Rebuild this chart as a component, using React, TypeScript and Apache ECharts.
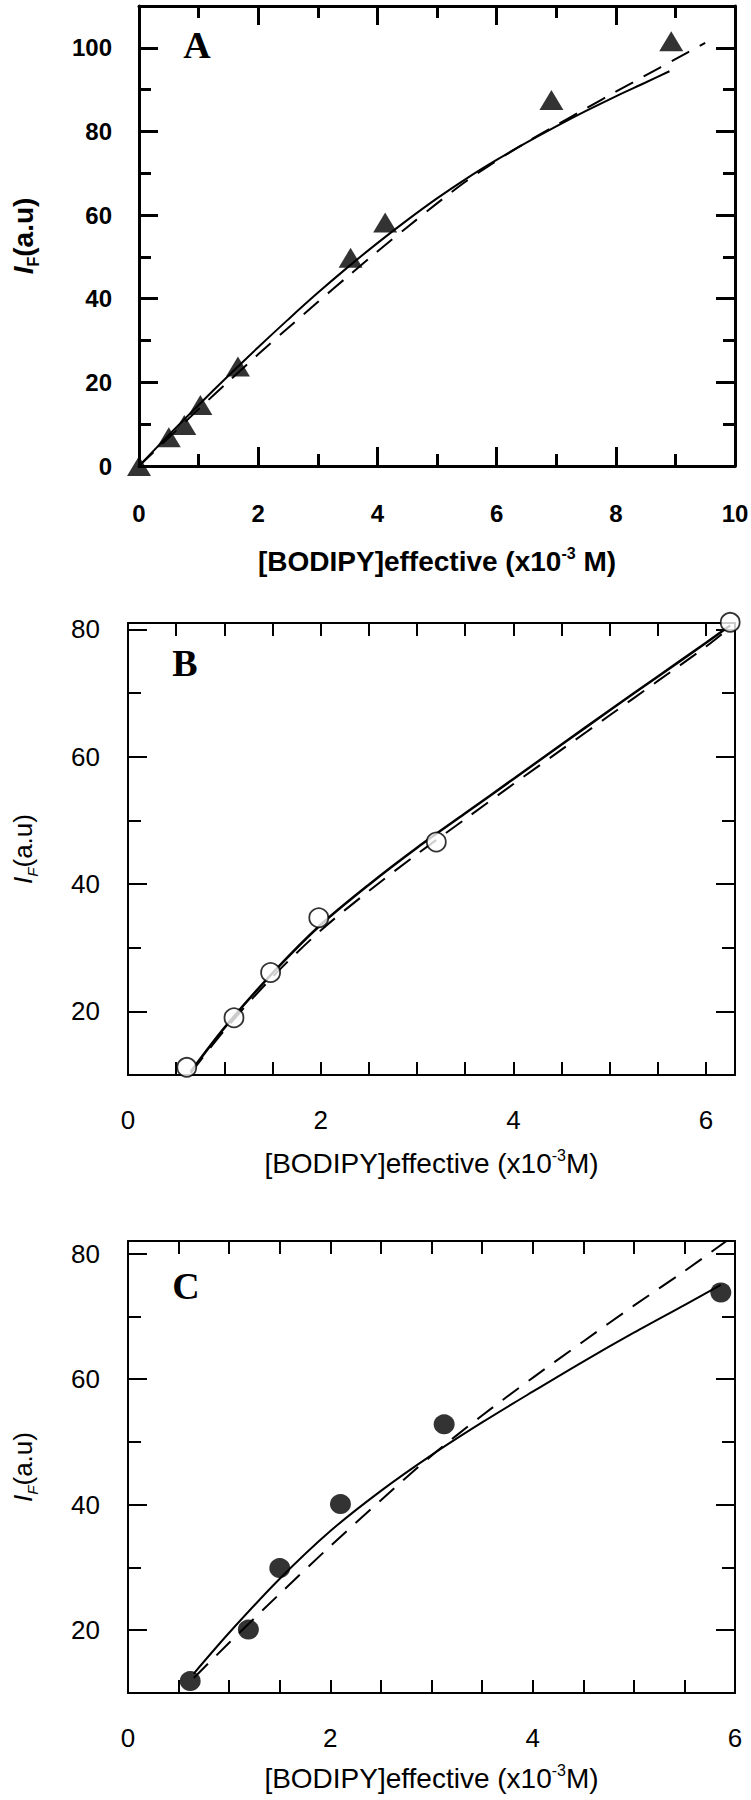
import React, { useEffect, useRef } from "react";
import * as echarts from "echarts";

// ---------- Panel A (filled triangles) ----------
const A_PTS_X = [0.0, 0.5, 0.76, 1.03, 1.66, 3.55, 4.13, 6.92, 8.93];
const A_PTS_Y = [0.0, 6.9, 9.8, 14.6, 23.8, 49.8, 58.2, 87.5, 101.6];
const A_FIT_X = [0, 0.5, 1, 1.5, 2, 2.5, 3, 3.5, 4, 4.5, 5, 5.5, 6, 6.5, 7, 7.5, 8, 8.5, 8.9];
const A_FIT_Y = [0, 7.4, 14.6, 21.6, 28.4, 35.0, 41.4, 47.5, 53.3, 58.8, 64.0, 68.8, 73.2, 77.3, 81.2, 84.9, 88.4, 91.7, 94.4];
const A_DASH_X = [0, 0.5, 1, 1.5, 2, 2.5, 3, 3.5, 4, 4.5, 5, 5.5, 6, 6.5, 7, 7.5, 8, 8.5, 9, 9.5];
const A_DASH_Y = [0, 6.8, 13.6, 20.2, 26.7, 33.0, 39.2, 45.3, 51.3, 57.1, 62.8, 68.2, 73.0, 77.4, 81.5, 85.5, 89.5, 93.4, 97.3, 101.2];
const A_X_LABELS = [0, 2, 4, 6, 8, 10];
const A_X_MAJOR = [2, 4, 6, 8];
const A_X_MINOR = [1, 3, 5, 7, 9];
const A_Y_LABELS = [0, 20, 40, 60, 80, 100];
const A_Y_MAJOR = [20, 40, 60, 80, 100];
const A_Y_MINOR = [10, 30, 50, 70, 90];

// ---------- Panel B (open circles) ----------
const B_PTS_X = [0.61, 1.1, 1.48, 1.98, 3.2, 6.25];
const B_PTS_Y = [11.2, 19.0, 26.1, 34.7, 46.6, 81.1];
const B_FIT_X = [0.65, 1, 1.5, 2, 2.5, 3, 3.5, 4, 4.5, 5, 5.5, 6, 6.25];
const B_FIT_Y = [10.5, 17.4, 26.0, 33.6, 39.9, 45.7, 51.1, 56.5, 61.9, 67.3, 72.6, 77.9, 80.6];
const B_DASH_X = [0.65, 1, 1.5, 2, 2.5, 3, 3.5, 4, 4.5, 5, 5.5, 6, 6.25];
const B_DASH_Y = [10.3, 17.0, 25.4, 32.7, 38.9, 44.7, 50.2, 55.7, 61.1, 66.5, 71.9, 77.3, 80.3];
const B_X_LABELS = [0, 2, 4, 6];
const B_X_TICKS = [0.5, 1, 1.5, 2, 2.5, 3, 3.5, 4, 4.5, 5, 5.5, 6];
const B_Y_LABELS = [20, 40, 60, 80];
const B_Y_MAJOR = [20, 40, 60, 80];
const B_Y_MINOR = [30, 50, 70];

// ---------- Panel C (filled circles) ----------
const C_PTS_X = [0.615, 1.19, 1.5, 2.1, 3.125, 5.86];
const C_PTS_Y = [11.9, 20.1, 29.9, 40.1, 52.8, 73.8];
const C_FIT_X = [0.65, 1, 1.5, 2, 2.5, 3, 3.5, 4, 4.5, 5, 5.5, 5.86];
const C_FIT_Y = [13.1, 19.6, 28.2, 35.8, 42.2, 47.9, 53.1, 58.0, 62.8, 67.4, 71.8, 75.0];
const C_DASH_X = [0.65, 1, 1.5, 2, 2.5, 3, 3.5, 4, 4.5, 5, 5.5, 5.95];
const C_DASH_Y = [12.4, 18.0, 25.8, 33.4, 40.7, 47.8, 54.2, 60.2, 66.0, 71.7, 77.2, 82.4];
const C_X_LABELS = [0, 2, 4, 6];
const C_X_TICKS = [0.5, 1, 1.5, 2, 2.5, 3, 3.5, 4, 4.5, 5, 5.5];
const C_Y_LABELS = [20, 40, 60, 80];
const C_Y_MAJOR = [20, 40, 60, 80];
const C_Y_MINOR = [30, 50, 70];

const SANS = "'Liberation Sans', Arial, sans-serif";
const SERIF = "'Liberation Serif', 'Times New Roman', serif";

const zip = (xs: number[], ys: number[]) => xs.map((x, i) => [x, ys[i]]);

function axesFor(
  dim: "x" | "y",
  gridIndex: number,
  min: number,
  max: number,
  labels: number[],
  majorTicks: number[],
  majorLen: number,
  minorTicks: number[],
  minorLen: number,
  lineW: number,
  labelStyle: any,
  name: string,
  nameGap: number,
  nameStyle: any
) {
  const base = {
    type: "value",
    gridIndex,
    min,
    max,
    splitLine: { show: false },
  };
  const line = { show: true, onZero: false, lineStyle: { color: "#000", width: lineW } };
  const noLine = { show: false, onZero: false };
  const tick = (vals: number[], len: number) => ({
    show: vals.length > 0,
    inside: true,
    length: len,
    customValues: vals,
    lineStyle: { color: "#000", width: lineW },
  });
  const p1 = dim === "x" ? "bottom" : "left";
  const p2 = dim === "x" ? "top" : "right";
  return [
    {
      ...base,
      position: p1,
      axisLine: line,
      axisTick: tick(majorTicks, majorLen),
      axisLabel: { show: true, customValues: labels, color: "#000", ...labelStyle },
      name,
      nameLocation: "middle",
      nameGap,
      nameRotate: dim === "y" ? 90 : 0,
      nameTextStyle: nameStyle,
    },
    { ...base, position: p1, axisLine: noLine, axisTick: tick(minorTicks, minorLen), axisLabel: { show: false } },
    { ...base, position: p2, axisLine: line, axisTick: tick(majorTicks, majorLen), axisLabel: { show: false } },
    { ...base, position: p2, axisLine: noLine, axisTick: tick(minorTicks, minorLen), axisLabel: { show: false } },
  ];
}

const boldLabel = { fontFamily: SANS, fontWeight: "bold", fontSize: 24 };
const regLabel = { fontFamily: SANS, fontWeight: "normal", fontSize: 26 };

const xNameBold = {
  rich: {
    n: { fontFamily: SANS, fontWeight: "bold", fontSize: 28, lineHeight: 32, color: "#000" },
    sup: { fontFamily: SANS, fontWeight: "bold", fontSize: 16, verticalAlign: "top", color: "#000" },
  },
};
const xNameReg = {
  rich: {
    n: { fontFamily: SANS, fontWeight: "normal", fontSize: 28, lineHeight: 32, color: "#000" },
    sup: { fontFamily: SANS, fontWeight: "normal", fontSize: 16, verticalAlign: "top", color: "#000" },
  },
};
const yNameBold = {
  rich: {
    i: { fontFamily: SANS, fontWeight: "bold", fontStyle: "italic", fontSize: 28, lineHeight: 36, color: "#000" },
    s: { fontFamily: SANS, fontWeight: "bold", fontSize: 16, verticalAlign: "bottom", color: "#000" },
    n: { fontFamily: SANS, fontWeight: "bold", fontSize: 28, lineHeight: 36, color: "#000" },
  },
};
const yNameReg = {
  rich: {
    i: { fontFamily: SANS, fontStyle: "italic", fontSize: 26, lineHeight: 34, color: "#000" },
    s: { fontFamily: SANS, fontStyle: "italic", fontSize: 15, verticalAlign: "bottom", color: "#000" },
    n: { fontFamily: SANS, fontSize: 26, lineHeight: 34, color: "#000" },
  },
};

function buildOption() {
  const grids = [
    { left: 139, top: 6, width: 596, height: 460, show: false, containLabel: false, outerBoundsMode: "none" },
    { left: 128, top: 623, width: 607, height: 452, show: false, containLabel: false, outerBoundsMode: "none" },
    { left: 128, top: 1241, width: 607, height: 452, show: false, containLabel: false, outerBoundsMode: "none" },
  ];
  const xAxes = [
    ...axesFor("x", 0, 0, 10, A_X_LABELS, A_X_MAJOR, 19, A_X_MINOR, 12, 3, { ...boldLabel, margin: 35 },
      "{n|[BODIPY]effective (x10}{sup|-3}{n| M)}", 79, xNameBold),
    ...axesFor("x", 1, 0, 6.3, B_X_LABELS, B_X_TICKS, 13, [], 0, 2, { ...regLabel, margin: 32 },
      "{n|[BODIPY]effective (x10}{sup|-3}{n|M)}", 72, xNameReg),
    ...axesFor("x", 2, 0, 6, C_X_LABELS, C_X_TICKS, 13, [], 0, 2, { ...regLabel, margin: 32 },
      "{n|[BODIPY]effective (x10}{sup|-3}{n|M)}", 69, xNameReg),
  ];
  const yAxes = [
    ...axesFor("y", 0, 0, 110, A_Y_LABELS, A_Y_MAJOR, 19, A_Y_MINOR, 12, 3, { ...boldLabel, margin: 27 },
      "{i|I}{s|F}{n|(a.u)}", 98, yNameBold),
    ...axesFor("y", 1, 10, 81, B_Y_LABELS, B_Y_MAJOR, 19, B_Y_MINOR, 13, 2, { ...regLabel, margin: 28 },
      "{i|I}{s|F}{n|(a.u)}", 88, yNameReg),
    ...axesFor("y", 2, 10, 82, C_Y_LABELS, C_Y_MAJOR, 19, C_Y_MINOR, 13, 2, { ...regLabel, margin: 28 },
      "{i|I}{s|F}{n|(a.u)}", 88, yNameReg),
  ];

  const fit = (p: number, xs: number[], ys: number[], width: number) => ({
    type: "line",
    xAxisIndex: 4 * p,
    yAxisIndex: 4 * p,
    data: zip(xs, ys),
    showSymbol: false,
    smooth: 0.3,
    lineStyle: { color: "#000", width, type: "solid" },
    z: 2,
  });
  const dash = (p: number, xs: number[], ys: number[], width: number) => ({
    type: "line",
    xAxisIndex: 4 * p,
    yAxisIndex: 4 * p,
    data: zip(xs, ys),
    showSymbol: false,
    smooth: 0.3,
    lineStyle: { color: "#000", width, type: [20, 12] },
    z: 2,
  });

  const series = [
    fit(0, A_FIT_X, A_FIT_Y, 2),
    dash(0, A_DASH_X, A_DASH_Y, 2),
    {
      type: "scatter",
      xAxisIndex: 0,
      yAxisIndex: 0,
      data: zip(A_PTS_X, A_PTS_Y),
      symbol: "triangle",
      symbolSize: [24, 20],
      itemStyle: { color: "#000" },
      clip: false,
      z: 5,
    },
    fit(1, B_FIT_X, B_FIT_Y, 2.5),
    dash(1, B_DASH_X, B_DASH_Y, 2),
    {
      type: "scatter",
      xAxisIndex: 4,
      yAxisIndex: 4,
      data: zip(B_PTS_X, B_PTS_Y),
      symbol: "circle",
      symbolSize: 19,
      itemStyle: { color: "#fff", borderColor: "#000", borderWidth: 1.8 },
      clip: false,
      z: 5,
    },
    fit(2, C_FIT_X, C_FIT_Y, 2),
    dash(2, C_DASH_X, C_DASH_Y, 2),
    {
      type: "scatter",
      xAxisIndex: 8,
      yAxisIndex: 8,
      data: zip(C_PTS_X, C_PTS_Y),
      symbol: "circle",
      symbolSize: [21, 20],
      itemStyle: { color: "#000" },
      clip: false,
      z: 5,
    },
  ];

  const letter = (t: string, x: number, y: number) => ({
    type: "text",
    x,
    y,
    z: 10,
    style: {
      text: t,
      fill: "#000",
      fontFamily: SERIF,
      fontWeight: "bold",
      fontSize: 38,
      align: "center",
      verticalAlign: "middle",
      textAlign: "center",
      textVerticalAlign: "middle",
    },
  });

  return {
    animation: false,
    backgroundColor: "#fff",
    grid: grids,
    xAxis: xAxes,
    yAxis: yAxes,
    series,
    graphic: [letter("A", 197, 45), letter("B", 185, 663), letter("C", 186, 1286)],
  };
}

export default function App() {
  const ref = useRef<HTMLDivElement>(null);
  useEffect(() => {
    if (!ref.current) return;
    const chart = echarts.init(ref.current, undefined, { renderer: "svg" });
    chart.setOption(buildOption() as any);
    return () => chart.dispose();
  }, []);
  return (
    <div
      ref={ref}
      style={{ position: "absolute", left: 0, top: 0, width: 751, height: 1800, background: "#fff" }}
    />
  );
}
